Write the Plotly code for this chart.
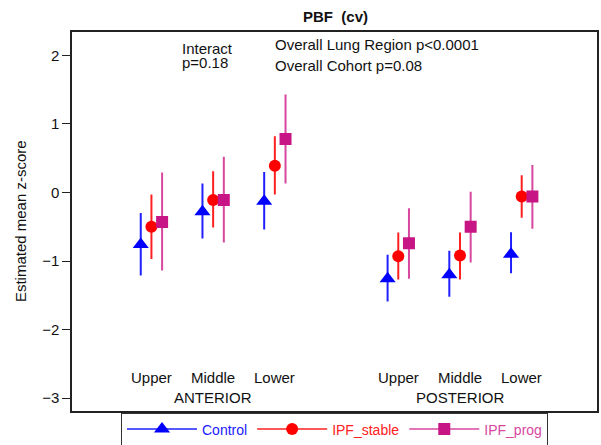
import plotly.graph_objects as go

# ---- data ----
regions = ["Upper", "Middle", "Lower", "Upper", "Middle", "Lower"]
region_pos = [1, 2, 3, 5, 6, 7]
sides = ["ANTERIOR", "POSTERIOR"]
side_pos = [2, 6]

control_mean = [-0.76, -0.28, -0.13, -1.26, -1.20, -0.90]
control_lo = [-1.21, -0.67, -0.54, -1.59, -1.52, -1.18]
control_hi = [-0.30, 0.13, 0.30, -0.91, -0.85, -0.58]

stable_mean = [-0.50, -0.11, 0.39, -0.93, -0.92, -0.06]
stable_lo = [-0.97, -0.51, -0.03, -1.27, -1.27, -0.37]
stable_hi = [-0.03, 0.31, 0.82, -0.585, -0.585, 0.25]

prog_mean = [-0.43, -0.11, 0.78, -0.74, -0.50, -0.06]
prog_lo = [-1.14, -0.73, 0.13, -1.26, -1.02, -0.53]
prog_hi = [0.29, 0.52, 1.43, -0.23, 0.01, 0.40]

series = [
    ("Control", control_mean, control_lo, control_hi, -0.173, "triangle-up", 14, "#0000ff", "#2020ff"),
    ("IPF_stable", stable_mean, stable_lo, stable_hi, 0.0, "circle", 12, "#ff0000", "#ff2020"),
    ("IPF_prog", prog_mean, prog_lo, prog_hi, 0.173, "square", 12, "#c71585", "#d7479f"),
]

FONT = "Liberation Sans, Arial, sans-serif"
FS = 15

fig = go.Figure()
for name, m, lo, hi, off, sym, sz, mcol, lcol in series:
    fig.add_trace(go.Scatter(
        x=[p + off for p in region_pos],
        y=m,
        mode="markers",
        name=name,
        showlegend=False,
        marker=dict(symbol=sym, size=sz, color=mcol, line=dict(width=0)),
        error_y=dict(
            type="data", symmetric=False,
            array=[h - v for h, v in zip(hi, m)],
            arrayminus=[v - l for v, l in zip(m, lo)],
            color=lcol, thickness=2, width=0,
        ),
    ))
# legend entries (line + marker, coloured text)
for name, m, lo, hi, off, sym, sz, mcol, lcol in series:
    fig.add_trace(go.Scatter(
        x=[None], y=[None], mode="lines+markers",
        name=f"<span style='color:{lcol}'>{name}</span>",
        line=dict(color=lcol, width=1.5),
        marker=dict(symbol=sym, size=sz, color=mcol, line=dict(width=0)),
        showlegend=True,
    ))

W, H = 601, 445
L, R, T, B = 72, 2, 32, 33
pw, ph = W - L - R, H - T - B

annotations = []
for r, p in zip(regions, region_pos):
    annotations.append(dict(x=p, y=-2.70, xref="x", yref="y", text=r, showarrow=False,
                            font=dict(family=FONT, size=FS, color="#111")))
for s, p in zip(sides, side_pos):
    annotations.append(dict(x=p, y=-2.99, xref="x", yref="y", text=s, showarrow=False,
                            font=dict(family=FONT, size=FS, color="#111")))

notes = [
    (180, 49, "Interact"),
    (180, 63, "p=0.18"),
    (274, 45, "Overall Lung Region p<0.0001"),
    (274, 66, "Overall Cohort p=0.08"),
]
for px, py, t in notes:
    annotations.append(dict(x=(px - L) / pw, y=1 - (py - T) / ph, xref="paper", yref="paper",
                            text=t, showarrow=False, xanchor="left", yanchor="middle",
                            font=dict(family=FONT, size=FS, color="#111")))

fig.update_layout(
    width=W, height=H,
    margin=dict(l=L, r=R, t=T, b=B),
    paper_bgcolor="white", plot_bgcolor="white",
    font=dict(family=FONT, size=FS, color="#111"),
    title=dict(text="<b>PBF&nbsp; (cv)</b>", x=(L + pw / 2) / W, xanchor="center",
               y=1 - 17 / H, yanchor="middle", font=dict(family=FONT, size=FS, color="#111")),
    showlegend=True,
    legend=dict(orientation="h", x=0.5, xanchor="center",
                yref="container", y=1 - 412.5 / H, yanchor="top",
                bordercolor="#333", borderwidth=1, bgcolor="white",
                font=dict(family=FONT, size=14), itemwidth=70,
                tracegroupgap=0),
    annotations=annotations,
)
fig.update_xaxes(range=[-0.287, 8.22], showgrid=False, zeroline=False, showticklabels=False,
                 ticks="", showline=True, linecolor="#222", linewidth=1.5, mirror=True)
fig.update_yaxes(range=[-3.18, 2.34], tickvals=[-3, -2, -1, 0, 1, 2], showgrid=False, zeroline=False,
                 ticks="outside", ticklen=8, tickcolor="#222", tickwidth=1,
                 showline=True, linecolor="#222", linewidth=1.5, mirror=True,
                 tickfont=dict(family=FONT, size=FS, color="#111"),
                 title=dict(text="Estimated mean z-score", standoff=12,
                            font=dict(family=FONT, size=FS, color="#111")))

fig.write_html("out.html")
